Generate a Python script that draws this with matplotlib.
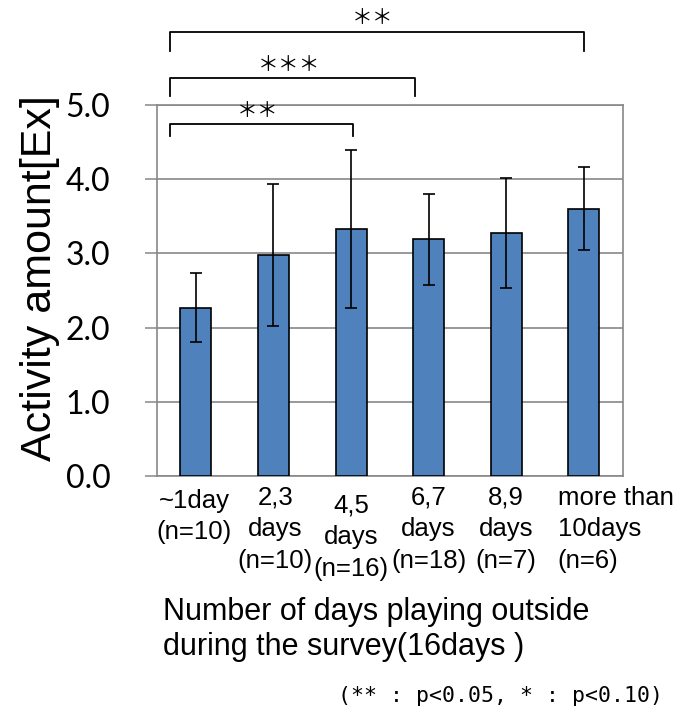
import matplotlib.pyplot as plt
from matplotlib.transforms import ScaledTranslation

# data
categories = ["~1day\n(n=10)", "2,3\ndays\n(n=10)", "4,5\ndays\n(n=16)",
              "6,7\ndays\n(n=18)", "8,9\ndays\n(n=7)", "more than\n10days\n(n=6)"]
means = [2.27, 2.98, 3.33, 3.19, 3.27, 3.60]
errors = [0.47, 0.96, 1.07, 0.61, 0.74, 0.56]
yticks = [0.0, 1.0, 2.0, 3.0, 4.0, 5.0]

# significance brackets: (from bar, to bar, label)
brackets = [(0, 2, "＊＊"), (0, 3, "＊＊＊"), (0, 5, "＊＊")]

fig = plt.figure(figsize=(6.89, 7.13), dpi=100)
ax = fig.add_axes([0.228, 0.3324, 0.6755, 0.5203])

x = range(len(categories))
ax.bar(x, means, width=0.4, color="#4F81BD", edgecolor="black", linewidth=1.2,
       zorder=3)
ax.errorbar(x, means, yerr=errors, fmt="none", ecolor="black", elinewidth=1.2,
            capsize=4.5, capthick=1.2, zorder=4)

ax.set_xlim(-0.5, len(categories) - 0.5)
ax.set_ylim(0, 5)
ax.set_yticks(yticks)
ax.set_yticklabels([f"{v:.1f}" for v in yticks], fontsize=23, family="Lato")
ax.tick_params(axis="y", length=8.6, width=1.1, color="#888888", pad=25)
ax.set_xticks(list(x))
ax.set_xticklabels(categories, fontsize=18.5, family="Liberation Sans",
                   linespacing=1.4)
ax.tick_params(axis="x", length=0, pad=7)
ax.yaxis.grid(True, color="#888888", linewidth=1.2, zorder=0)
for s in ax.spines.values():
    s.set_color("#888888")
    s.set_linewidth(1.2)

# small nudges of the category labels (pixels), as laid out in the original
nudges = [(-2, -3), (2, 0), (0, -8), (0, 0), (0, 0), (-26, 0)]
for lbl, (dx, dy) in zip(ax.get_xticklabels(), nudges):
    lbl.set_transform(lbl.get_transform() +
                      ScaledTranslation(dx / 100, dy / 100, fig.dpi_scale_trans))
last = ax.get_xticklabels()[-1]
last.set_horizontalalignment("left")
last.set_multialignment("left")

# brackets (hand placed in the original)
levels = [(4.58, 4.74, 4.92), (5.12, 5.36, 5.54), (5.73, 5.99, 6.17)]
lefts = [-0.33, -0.33, -0.33]
rights = [2.02, 2.83, 5.0]
for (i0, i1, lab), (yb, yt, ys), xl, xr in zip(brackets, levels, lefts, rights):
    ax.plot([xl, xl, xr, xr], [yb, yt, yt, yb], color="black", lw=1.3,
            clip_on=False)
    ax.text((xl + xr) / 2 - 0.05, ys, lab, ha="center", va="center",
            fontsize=15, family=["Noto Sans CJK JP", "DejaVu Sans"])

fig.text(40 / 689, 1 - 278 / 713, "Activity amount[Ex]", rotation=90,
         ha="center", va="center", fontsize=31, family="Liberation Sans")
fig.text(163 / 689, 1 - 597 / 713,
         "Number of days playing outside\nduring the survey(16days )",
         ha="left", va="top", fontsize=22, family="Liberation Sans",
         linespacing=1.2)
fig.text(500 / 689, 1 - 696 / 713, "(** : p<0.05, * : p<0.10)",
         ha="center", va="center", fontsize=15.5, family="DejaVu Sans Mono")

fig.savefig("out.png", dpi=100)
